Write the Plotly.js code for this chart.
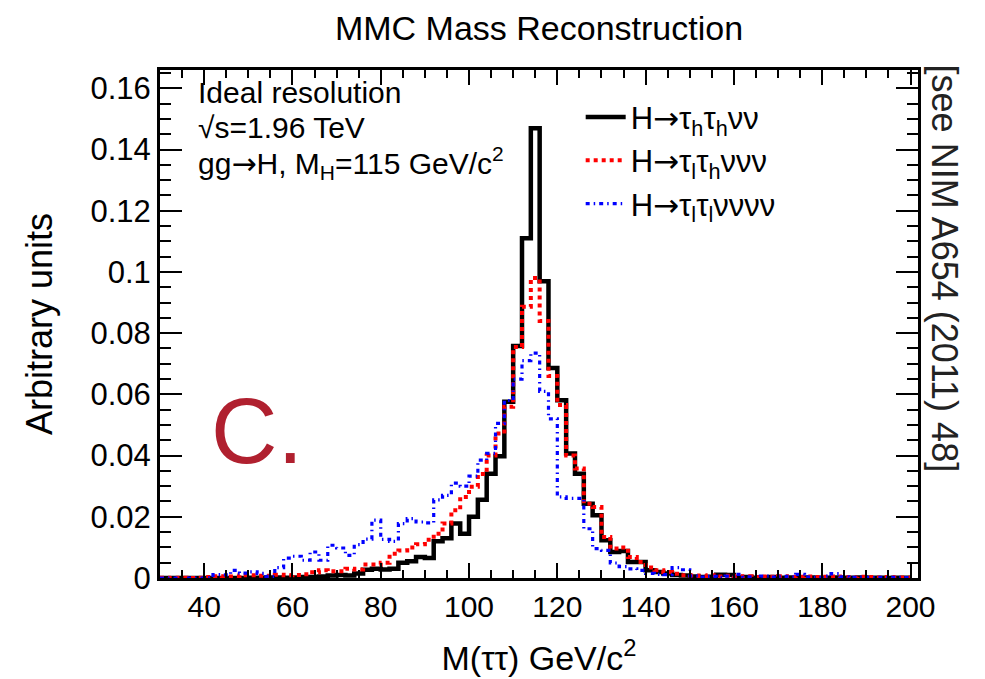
<!DOCTYPE html>
<html>
<head>
<meta charset="utf-8">
<script src="https://cdn.plot.ly/plotly-3.0.1.min.js"></script>
<style>html,body{margin:0;padding:0;background:#fff;}#chart{width:985px;height:679px;}</style>
</head>
<body>
<div id="chart"></div>
<script>
// Bin left edges (GeV/c^2), 2 GeV bins from 30 to 200
const binStart = 30;
const binWidth = 2;
const nBins = 85;

// H -> tau_h tau_h nu nu (black, solid)
const hadhad = [
  0, 0, 0, 0, 0, 0, 0, 0, 0, 0,
  0.0001, 0.0001, 0.0002, 0.0002, 0.0001, 0.0002, 0.0003, 0.0003, 0.0005, 0.0008,
  0.0010, 0.0008, 0.0015, 0.0027, 0.0030, 0.0028, 0.0030, 0.0050, 0.0055, 0.0069,
  0.0065, 0.0120, 0.0130, 0.0178, 0.0145, 0.0200, 0.0256, 0.0341, 0.0398, 0.0576,
  0.0758, 0.1110, 0.1470, 0.0970, 0.0686, 0.0581, 0.0407, 0.0341, 0.0243, 0.0205,
  0.0123, 0.0085, 0.0088, 0.0052, 0.0052, 0.0025, 0.0020, 0.0015, 0.0010, 0.0008,
  0.0005, 0.0003, 0.0004, 0.0011, 0.0010, 0.0002, 0.0003, 0.0001, 0.0002, 0.0003,
  0.0001, 0.0002, 0.0001, 0.0002, 0.0001, 0.0001, 0.0002, 0.0001, 0.0001, 0.0002,
  0.0001, 0.0001, 0.0000, 0.0001, 0.0001
];

// H -> tau_l tau_h nu nu nu (red, dotted)
const lephad = [
  0.0001, 0, 0.0001, 0, 0.0001, 0.0003, 0.0006, 0.0005, 0.0005, 0.0009,
  0.0009, 0.0007, 0.0007, 0.0011, 0.0009, 0.0010, 0.0012, 0.0019, 0.0025, 0.0022,
  0.0022, 0.0030, 0.0028, 0.0044, 0.0044, 0.0050, 0.0079, 0.0090, 0.0100, 0.0110,
  0.0125, 0.0145, 0.0178, 0.0221, 0.0265, 0.0298, 0.0340, 0.0400, 0.0472, 0.0560,
  0.0755, 0.0886, 0.0980, 0.0840, 0.0660, 0.0565, 0.0400, 0.0358, 0.0243, 0.0232,
  0.0134, 0.0096, 0.0100, 0.0069, 0.0052, 0.0034, 0.0025, 0.0020, 0.0014, 0.0009,
  0.0008, 0.0006, 0.0009, 0.0005, 0.0007, 0.0004, 0.0006, 0.0003, 0.0005, 0.0004,
  0.0006, 0.0003, 0.0004, 0.0005, 0.0003, 0.0004, 0.0005, 0.0003, 0.0002, 0.0004,
  0.0003, 0.0002, 0.0003, 0.0002, 0.0002
];

// H -> tau_l tau_l nu nu nu nu (blue, dash-dot)
const leplep = [
  0, 0, 0, 0, 0, 0.0001, 0.0011, 0.0010, 0.0025, 0.0016,
  0.0020, 0.0015, 0.0005, 0.0034, 0.0065, 0.0071, 0.0058, 0.0085, 0.0058, 0.0107,
  0.0098, 0.0074, 0.0109, 0.0127, 0.0189, 0.0126, 0.0120, 0.0178, 0.0194, 0.0183,
  0.0180, 0.0255, 0.0270, 0.0310, 0.0300, 0.0333, 0.0385, 0.0407, 0.0505, 0.0580,
  0.0650, 0.0710, 0.0735, 0.0610, 0.0520, 0.0265, 0.0260, 0.0260, 0.0161, 0.0096,
  0.0090, 0.0049, 0.0037, 0.0030, 0.0025, 0.0015, 0.0012, 0.0011, 0.0034, 0.0027,
  0.0007, 0.0003, 0.0005, 0.0002, 0.0006, 0.0012, 0.0004, 0.0002, 0.0006, 0.0003,
  0.0005, 0.0004, 0.0012, 0.0003, 0.0002, 0.0006, 0.0014, 0.0004, 0.0002, 0.0003,
  0.0001, 0.0002, 0.0001, 0.0002, 0.0001
];

const ARROW = '<span style="font-family:DejaVu Sans">\u2192</span>';
const seriesNames = [
  'H' + ARROW + '\u03c4<sub>h</sub>\u03c4<sub>h</sub>\u03bd\u03bd',
  'H' + ARROW + '\u03c4<sub>l</sub>\u03c4<sub>h</sub>\u03bd\u03bd\u03bd',
  'H' + ARROW + '\u03c4<sub>l</sub>\u03c4<sub>l</sub>\u03bd\u03bd\u03bd\u03bd'
];

const xTickVals = [40, 60, 80, 100, 120, 140, 160, 180, 200];
const xTickText = ['40', '60', '80', '100', '120', '140', '160', '180', '200'];
const yTickVals = [0, 0.02, 0.04, 0.06, 0.08, 0.1, 0.12, 0.14, 0.16];
const yTickText = ['0', '0.02', '0.04', '0.06', '0.08', '0.1', '0.12', '0.14', '0.16'];

// bin edges -> step trace
const edges = [];
for (let i = 0; i <= nBins; i++) edges.push(binStart + i * binWidth);
function stepY(vals) { return vals.concat([vals[vals.length - 1]]); }

const FONT = 'Liberation Sans, Arial, Helvetica, sans-serif';

const traces = [
  {x: edges, y: stepY(hadhad), name: seriesNames[0], type: 'scatter', mode: 'lines',
   line: {shape: 'hv', color: '#000000', width: 4.5}},
  {x: edges, y: stepY(lephad), name: seriesNames[1], type: 'scatter', mode: 'lines',
   line: {shape: 'hv', color: '#ff0000', width: 4, dash: '4px,4px'}},
  {x: edges, y: stepY(leplep), name: seriesNames[2], type: 'scatter', mode: 'lines',
   line: {shape: 'hv', color: '#0000ff', width: 3.2, dash: '4px,4px,1.5px,4px'}}
];

const layout = {
  width: 985, height: 679,
  margin: {l: 160, r: 67, t: 70, b: 101},
  paper_bgcolor: '#ffffff', plot_bgcolor: '#ffffff',
  showlegend: true,
  font: {family: FONT, color: '#000'},
  title: {text: 'MMC Mass Reconstruction', x: 0.5, xref: 'paper', xanchor: 'center',
          y: 0.958, yref: 'container', yanchor: 'middle',
          font: {size: 34, family: FONT, color: '#000'}},
  xaxis: {
    range: [30, 201.7], showgrid: false, zeroline: false,
    showline: true, linewidth: 3, linecolor: '#000', mirror: 'allticks',
    ticks: 'inside', ticklen: 15, tickwidth: 2, tickcolor: '#000',
    tickvals: xTickVals, ticktext: xTickText,
    tickfont: {size: 30, family: FONT, color: '#000'},
    minor: {ticks: 'inside', ticklen: 8, tickwidth: 2, tickcolor: '#000', dtick: 5, tick0: 0},
    title: {text: 'M(\u03c4\u03c4) GeV/c<sup>2</sup>', font: {size: 34, family: FONT, color: '#000'}, standoff: 25},
    automargin: false
  },
  yaxis: {
    range: [0, 0.166], showgrid: false, zeroline: false,
    showline: true, linewidth: 3, linecolor: '#000', mirror: 'allticks',
    ticks: 'inside', ticklen: 22, tickwidth: 2, tickcolor: '#000',
    tickvals: yTickVals, ticktext: yTickText,
    tickfont: {size: 31, family: FONT, color: '#000'},
    minor: {ticks: 'inside', ticklen: 11, tickwidth: 2, tickcolor: '#000', dtick: 0.005, tick0: 0},
    title: {text: 'Arbitrary units', font: {size: 36, family: FONT, color: '#000'}, standoff: 27},
    automargin: false
  },
  legend: {
    x: 0.555, y: 0.96, xanchor: 'left', yanchor: 'top',
    bgcolor: 'rgba(0,0,0,0)', borderwidth: 0,
    font: {size: 31, family: FONT, color: '#000'},
    itemwidth: 40, tracegroupgap: 0
  },
  annotations: [
    {text: 'Ideal resolution', xref: 'paper', yref: 'paper', x: 0.047, y: 0.955,
     xanchor: 'left', yanchor: 'middle', showarrow: false, font: {size: 30, family: FONT, color: '#000'}},
    {text: '\u221as=1.96 TeV', xref: 'paper', yref: 'paper', x: 0.047, y: 0.886,
     xanchor: 'left', yanchor: 'middle', showarrow: false, font: {size: 30, family: FONT, color: '#000'}},
    {text: 'gg' + ARROW + 'H, M<sub>H</sub>=115 GeV/c<sup>2</sup>', xref: 'paper', yref: 'paper', x: 0.047, y: 0.817,
     xanchor: 'left', yanchor: 'middle', showarrow: false, font: {size: 30, family: FONT, color: '#000'}},
    {text: 'C.', xref: 'paper', yref: 'paper', x: 0.128, y: 0.29,
     xanchor: 'center', yanchor: 'middle', showarrow: false, font: {size: 92, family: FONT, color: '#b0202f'}},
    {text: '[see NIM A654 (2011) 48]', xref: 'paper', yref: 'paper', x: 1.035, y: 0.61,
     xanchor: 'center', yanchor: 'middle', textangle: 90, showarrow: false,
     font: {size: 36, family: FONT, color: '#222'}}
  ]
};

Plotly.newPlot('chart', traces, layout, {displayModeBar: false, staticPlot: true});
</script>
</body>
</html>
